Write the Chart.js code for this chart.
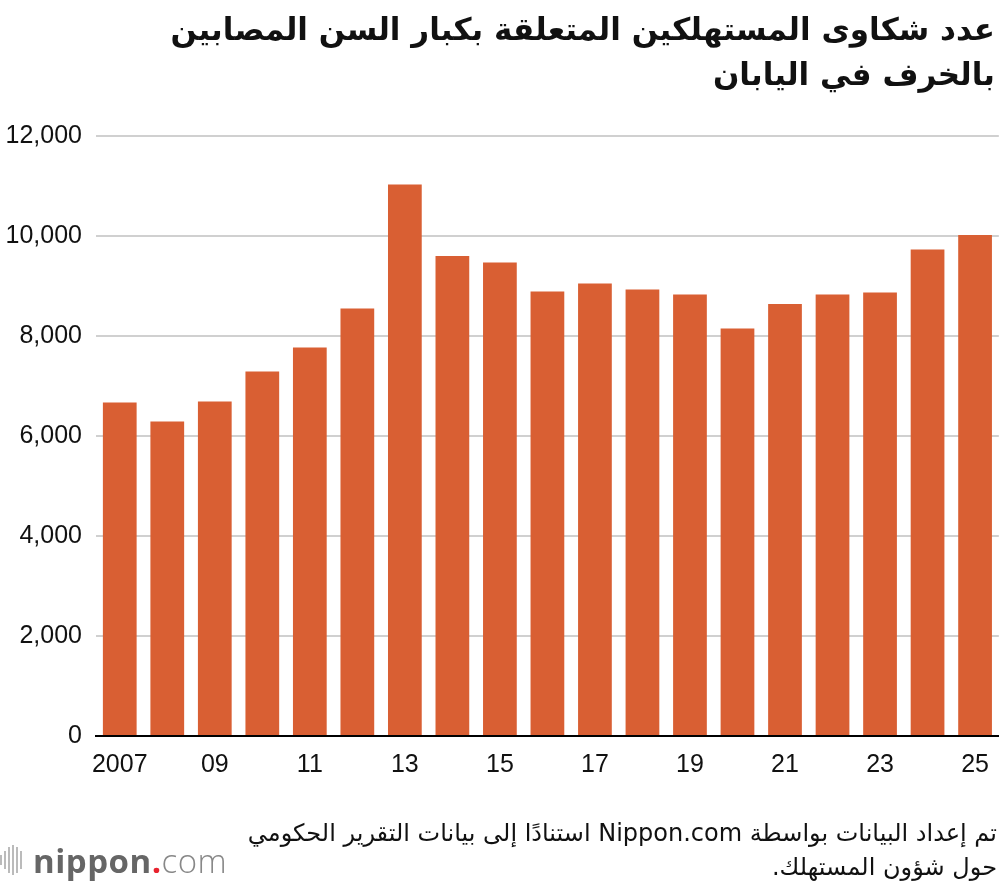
<!DOCTYPE html>
<html lang="ar">
<head>
  <meta charset="UTF-8">
  <title>عدد شكاوى المستهلكين المتعلقة بكبار السن المصابين بالخرف في اليابان</title>
  <script src="https://cdn.jsdelivr.net/npm/chart.js"></script>
  <style>
    html, body { margin: 0; padding: 0; background: #fff; }
    #wrap { position: relative; width: 1000px; height: 886px; overflow: hidden; }
    #chart { position: absolute; left: 0; top: 0; }
    .title {
      position: absolute; right: 5px; top: 7px; width: 990px;
      direction: rtl; text-align: right;
      font-family: "DejaVu Sans", sans-serif; font-weight: bold;
      font-size: 31px; line-height: 45px; color: #111;
    }
    .source {
      position: absolute; right: 3px; top: 816px; width: 800px;
      direction: rtl; text-align: right;
      font-family: "DejaVu Sans", sans-serif;
      font-size: 24px; line-height: 34px; color: #111;
    }
    .logo { position: absolute; left: 0; top: 840px; height: 40px; display: flex; align-items: center; }
    .bars { display: flex; align-items: center; gap: 2px; margin-right: 11px; }
    .bars span { display: block; width: 2px; background: #bbb; }
    .logo .name { font-family: "Open Sans", sans-serif; font-size: 33px; color: #666; letter-spacing: 0.5px; }
    .logo .name b { font-weight: 700; }
    .logo .name i { font-style: normal; color: #e8222e; font-weight: 700; }
    .logo .name em { font-style: normal; font-weight: 300; color: #888; }
  </style>
</head>
<body>
  <div id="wrap">
    <canvas id="chart" width="1003" height="886"></canvas>
    <div class="title">عدد شكاوى المستهلكين المتعلقة بكبار السن المصابين<br>بالخرف في اليابان</div>
    <div class="source">تم إعداد البيانات بواسطة Nippon.com استنادًا إلى بيانات التقرير الحكومي<br>حول شؤون المستهلك.</div>
    <div class="logo">
      <div class="bars">
        <span style="height:10px"></span><span style="height:18px"></span><span style="height:26px"></span>
        <span style="height:30px"></span><span style="height:26px"></span><span style="height:18px"></span>
      </div>
      <div class="name"><b>nippon</b><i>.</i><em>com</em></div>
    </div>
  </div>

  <script>
    // Fiscal years 2007-2025
    const years = ['2007', '2008', '2009', '2010', '2011', '2012', '2013', '2014', '2015', '2016',
                   '2017', '2018', '2019', '2020', '2021', '2022', '2023', '2024', '2025'];
    const xTickLabels = ['2007', '', '09', '', '11', '', '13', '', '15', '',
                         '17', '', '19', '', '21', '', '23', '', '25'];
    // Complaints
    const complaints = [6670, 6290, 6690, 7290, 7770, 8550, 11030, 9600, 9470, 8890,
                        9050, 8930, 8830, 8150, 8640, 8830, 8870, 9730, 10020];
    const yTicks = [0, 2000, 4000, 6000, 8000, 10000, 12000];

    const tickFont = { family: '"Liberation Sans", Arial, sans-serif', size: 25 };

    new Chart(document.getElementById('chart'), {
      type: 'bar',
      data: {
        labels: years,
        datasets: [{
          data: complaints,
          backgroundColor: '#d95f33',
          borderWidth: 0,
          barPercentage: 0.71,
          categoryPercentage: 1.0
        }]
      },
      options: {
        responsive: false,
        animation: false,
        devicePixelRatio: 1,
        layout: { padding: { top: 136, bottom: 100, left: 0, right: 1 } },
        plugins: { legend: { display: false }, tooltip: { enabled: false } },
        scales: {
          x: {
            grid: { display: false, drawTicks: false },
            border: { display: true, color: '#000', width: 2 },
            ticks: {
              autoSkip: false, maxRotation: 0, padding: 14,
              color: '#111', font: tickFont,
              callback: (v, i) => xTickLabels[i]
            },
            afterFit: (axis) => { axis.height = 50; }
          },
          y: {
            min: 0, max: 12000,
            afterBuildTicks: (axis) => { axis.ticks = yTicks.map(v => ({ value: v })); },
            grid: {
              drawTicks: false, lineWidth: 2,
              color: (ctx) => ctx.tick && ctx.tick.value === 0 ? 'rgba(0,0,0,0)' : '#d0d0d0'
            },
            border: { display: false },
            ticks: {
              padding: 14, color: '#111', font: tickFont,
              callback: (v) => v.toLocaleString('en-US')
            },
            afterFit: (axis) => { axis.width = 96; }
          }
        }
      }
    });
  </script>
</body>
</html>
